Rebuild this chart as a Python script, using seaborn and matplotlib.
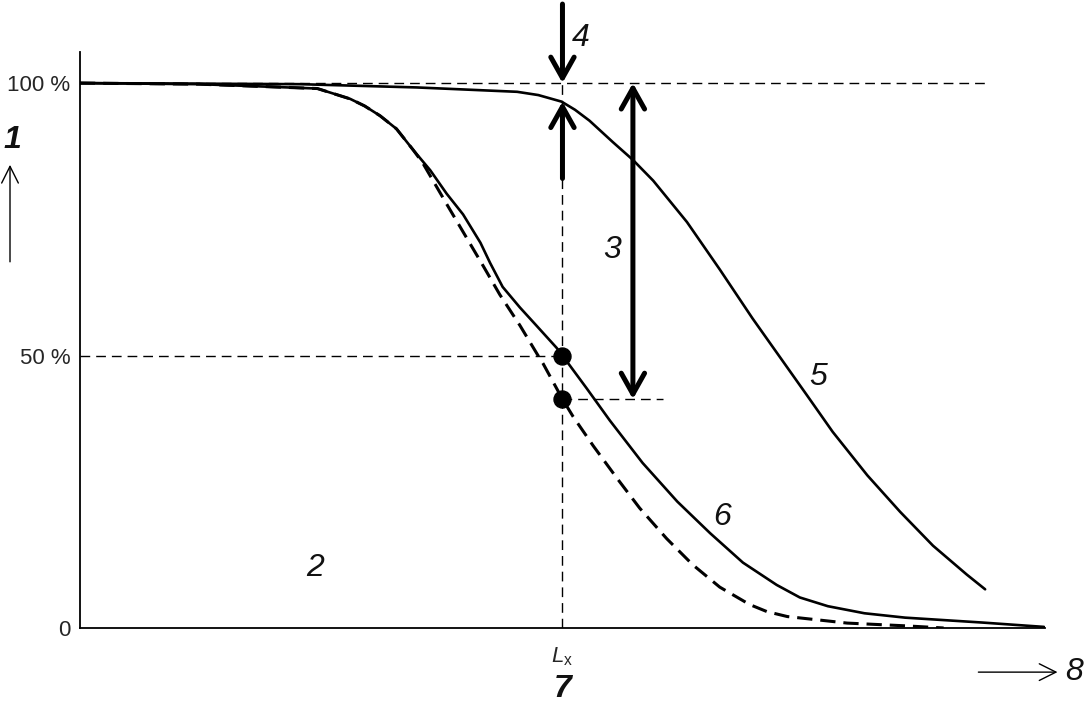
import numpy as np
import pandas as pd
import matplotlib
matplotlib.use("Agg")
import matplotlib.pyplot as plt
import seaborn as sns

# === data (relative length, transmitted %) ===
x_curve5 = [0, 2.28, 3.49, 4.53, 4.75, 4.99, 5.13, 5.28, 5.52, 5.73, 5.94, 6.29, 6.63,
            6.97, 7.33, 7.53, 7.80, 8.16, 8.50, 8.84, 9.19, 9.38]
y_curve5 = [100, 99.8, 99.2, 98.4, 97.8, 96.6, 95.1, 93.1, 89.2, 85.9, 82.1, 74.5, 65.8,
            56.8, 47.8, 42.8, 36.0, 28.0, 21.3, 15.1, 9.8, 7.1]

x_curve6 = [0, 1.24, 2.46, 2.80, 2.95, 3.11, 3.28, 3.45, 3.63, 3.80, 3.97, 4.15,
            4.25, 4.38, 4.56, 4.73, 4.94, 5.00, 5.25, 5.49, 5.83, 6.19, 6.53, 6.87,
            7.22, 7.46, 7.75, 8.13, 8.55, 9.35, 9.99]
y_curve6 = [100, 99.8, 99.0, 97.1, 95.8, 94.0, 91.6, 87.8, 84.0, 79.7, 75.9, 70.7,
            67.0, 62.6, 58.8, 55.5, 51.4, 50.0, 44.0, 38.1, 30.3, 23.2, 17.4, 12.0,
            7.9, 5.6, 4.0, 2.7, 1.9, 1.0, 0.2]

x_dashed = [0, 1.24, 2.46, 2.80, 2.95, 3.11, 3.28, 3.45, 3.55, 3.80, 4.01, 4.18,
            4.35, 4.56, 4.74, 4.80, 5.00, 5.11, 5.32, 5.56, 5.80, 6.08, 6.35, 6.63,
            6.94, 7.12, 7.33, 7.95, 8.55, 8.95]
y_dashed = [100, 99.8, 99.0, 97.1, 95.8, 94.0, 91.6, 87.8, 85.4, 77.8, 71.5, 66.4,
            61.2, 55.5, 50.2, 48.5, 42.0, 38.8, 33.4, 27.6, 22.0, 16.4, 11.6, 7.5,
            4.3, 3.0, 2.1, 0.9, 0.4, 0.0]

L_x = 5.0
y_full = 100
y_half = 50
y_lower_dot = 42.0
y_curve5_at_Lx = 96.6
x_double_arrow = 5.73

ytick_vals = [0, 50, 100]
ytick_labels = ["0", "50 %", "100 %"]

# === plot ===
sns.set_style("white")
plt.rcParams["font.family"] = ["Liberation Sans", "DejaVu Sans"]
plt.rcParams["mathtext.fontset"] = "custom"
plt.rcParams["mathtext.it"] = "Liberation Sans:italic"
plt.rcParams["mathtext.rm"] = "Liberation Sans"

fig = plt.figure(figsize=(10.85, 7.03), dpi=100)
ax = fig.add_axes([0.0737, 0.1067, 0.8894, 0.8193])

sns.lineplot(x=x_curve5, y=y_curve5, ax=ax, color="black", lw=1.9, estimator=None, sort=False)
sns.lineplot(x=x_curve6, y=y_curve6, ax=ax, color="black", lw=1.9, estimator=None, sort=False)
sns.lineplot(x=x_dashed, y=y_dashed, ax=ax, color="black", lw=2.2, estimator=None, sort=False,
             linestyle=(0, (5, 2.6)))

guide = dict(color="black", lw=1.0, linestyle=(0, (7, 4.3)))
ax.plot([0, 9.41], [y_full, y_full], **guide)
ax.plot([0, L_x], [y_half, y_half], **guide)
ax.plot([L_x, 6.04], [y_lower_dot, y_lower_dot], **guide)
ax.plot([L_x, L_x], [0, y_full], **guide)

sns.scatterplot(x=[L_x, L_x], y=[y_half, y_lower_dot], ax=ax, color="black", s=150,
                edgecolor="black", zorder=5)

thick = dict(lw=3.6, color="black", shrinkA=0, shrinkB=0, mutation_scale=20)
ax.annotate("", xy=(L_x, y_full), xytext=(L_x, 114.5), annotation_clip=False,
            arrowprops=dict(arrowstyle="->,head_length=0.75,head_width=0.42", **thick))
ax.annotate("", xy=(L_x, y_curve5_at_Lx), xytext=(L_x, 82.5),
            arrowprops=dict(arrowstyle="->,head_length=0.75,head_width=0.42", **thick))
ax.annotate("", xy=(x_double_arrow, y_full), xytext=(x_double_arrow, y_lower_dot),
            arrowprops=dict(arrowstyle="<->,head_length=0.75,head_width=0.42", **thick))

# thin axis arrows
thin = dict(arrowstyle="->,head_length=0.6,head_width=0.3", lw=1.0, color="black",
            shrinkA=0, shrinkB=0, mutation_scale=20)
ax.annotate("", xy=(-0.725, 85.0), xytext=(-0.725, 67.2), annotation_clip=False, arrowprops=thin)
ax.annotate("", xy=(10.13, -8.1), xytext=(9.31, -8.1), annotation_clip=False, arrowprops=thin)

lab = dict(fontsize=23, style="italic", ha="center", va="center", color="#111111")
ax.text(-0.70, 89.5, "1", clip_on=False, fontweight="bold", **lab)
ax.text(2.44, 11.0, "2", **lab)
ax.text(5.51, 69.4, "3", **lab)
ax.text(5.19, 108.3, "4", clip_on=False, **lab)
ax.text(7.65, 46.1, "5", **lab)
ax.text(6.65, 20.4, "6", **lab)
ax.text(5.0, -11.2, "7", clip_on=False, fontweight="bold", **lab)
ax.text(10.30, -8.1, "8", clip_on=False, **lab)
ax.text(5.0, -5.3, r"$L_{\mathrm{x}}$", fontsize=16, ha="center", va="center", clip_on=False)

ax.set_xlim(0, 10)
ax.set_ylim(0, 105.7)
ax.set_xticks([])
ax.set_yticks(ytick_vals)
ax.set_yticklabels(ytick_labels, fontsize=16)
ax.tick_params(axis="y", length=0, pad=7)
ax.set_xlabel("")
ax.set_ylabel("")
sns.despine(ax=ax, top=True, right=True)
for side in ["left", "bottom"]:
    ax.spines[side].set_color("black")
    ax.spines[side].set_linewidth(1.3)

plt.savefig("out.png", dpi=100)
plt.close()
